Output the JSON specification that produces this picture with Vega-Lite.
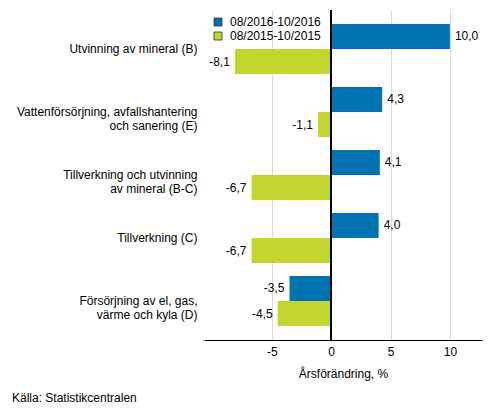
{
  "$schema": "https://vega.github.io/schema/vega-lite/v6.json",
  "width": 278,
  "height": 330,
  "autosize": "none",
  "padding": {"left": 204, "top": 10, "right": 11, "bottom": 76},
  "background": "white",
  "config": {
    "font": "Liberation Sans",
    "view": {"stroke": null},
    "locale": {"number": {"decimal": ",", "thousands": " ", "grouping": [3], "currency": ["", ""], "minus": "-"}}
  },
  "title": {
    "text": "Källa: Statistikcentralen",
    "orient": "bottom",
    "anchor": "start",
    "frame": "group",
    "dx": -192,
    "offset": 14,
    "fontSize": 12,
    "fontWeight": "normal",
    "color": "#000000"
  },
  "data": {
    "values": [
      {"category": "Utvinning av mineral (B)", "series": "08/2016-10/2016", "value": 10.0},
      {"category": "Utvinning av mineral (B)", "series": "08/2015-10/2015", "value": -8.1},
      {"category": "Vattenförsörjning, avfallshantering\noch sanering (E)", "series": "08/2016-10/2016", "value": 4.3},
      {"category": "Vattenförsörjning, avfallshantering\noch sanering (E)", "series": "08/2015-10/2015", "value": -1.1},
      {"category": "Tillverkning och utvinning\nav mineral (B-C)", "series": "08/2016-10/2016", "value": 4.1},
      {"category": "Tillverkning och utvinning\nav mineral (B-C)", "series": "08/2015-10/2015", "value": -6.7},
      {"category": "Tillverkning (C)", "series": "08/2016-10/2016", "value": 4.0},
      {"category": "Tillverkning (C)", "series": "08/2015-10/2015", "value": -6.7},
      {"category": "Försörjning av el, gas,\nvärme och kyla (D)", "series": "08/2016-10/2016", "value": -3.5},
      {"category": "Försörjning av el, gas,\nvärme och kyla (D)", "series": "08/2015-10/2015", "value": -4.5}
    ]
  },
  "encoding": {
    "y": {
      "field": "category",
      "type": "nominal",
      "sort": null,
      "title": null,
      "scale": {"paddingInner": 0.206, "paddingOuter": 0.222},
      "axis": {
        "domain": false,
        "ticks": false,
        "grid": false,
        "labelPadding": 7,
        "labelFontSize": 12,
        "labelColor": "#000000",
        "labelLineHeight": 14,
        "labelLimit": 300,
        "labelExpr": "split(datum.label, '\\n')"
      }
    },
    "yOffset": {
      "field": "series",
      "type": "nominal",
      "sort": ["08/2016-10/2016", "08/2015-10/2015"],
      "scale": {"paddingInner": 0, "paddingOuter": 0}
    }
  },
  "layer": [
    {
      "mark": {"type": "bar"},
      "encoding": {
        "x": {
          "field": "value",
          "type": "quantitative",
          "scale": {"domain": [-10.7, 12.7], "nice": false, "zero": false},
          "axis": {
            "values": [-5, 0, 5, 10],
            "format": "d",
            "title": "Årsförändring, %",
            "titleFontWeight": "normal",
            "titleFontSize": 12,
            "titleColor": "#000000",
            "titlePadding": 11,
            "labelFontSize": 12,
            "labelColor": "#000000",
            "labelPadding": 6,
            "ticks": false,
            "domainColor": "#000000",
            "domainWidth": 1,
            "grid": true,
            "gridColor": "#d9d9d9",
            "gridWidth": 1
          }
        },
        "color": {
          "field": "series",
          "type": "nominal",
          "sort": ["08/2016-10/2016", "08/2015-10/2015"],
          "scale": {"domain": ["08/2016-10/2016", "08/2015-10/2015"], "range": ["#0073b0", "#c3d62f"]},
          "legend": {
            "title": null,
            "orient": "none",
            "legendX": 8,
            "legendY": 6,
            "symbolType": "square",
            "symbolSize": 64,
            "symbolStrokeColor": "#333333",
            "symbolStrokeWidth": 0.8,
            "labelFontSize": 12,
            "labelColor": "#000000",
            "labelOffset": 6,
            "rowPadding": 2
          }
        }
      }
    },
    {
      "mark": {"type": "rule", "color": "#000000", "strokeWidth": 1},
      "encoding": {"x": {"datum": 0}, "y": null, "yOffset": null}
    },
    {
      "transform": [{"filter": "datum.value >= 0"}],
      "mark": {"type": "text", "align": "left", "baseline": "middle", "dx": 5, "fontSize": 12, "color": "#000000"},
      "encoding": {
        "x": {"field": "value", "type": "quantitative"},
        "text": {"field": "value", "type": "quantitative", "format": ".1f"}
      }
    },
    {
      "transform": [{"filter": "datum.value < 0"}],
      "mark": {"type": "text", "align": "right", "baseline": "middle", "dx": -5, "fontSize": 12, "color": "#000000"},
      "encoding": {
        "x": {"field": "value", "type": "quantitative"},
        "text": {"field": "value", "type": "quantitative", "format": ".1f"}
      }
    }
  ]
}
